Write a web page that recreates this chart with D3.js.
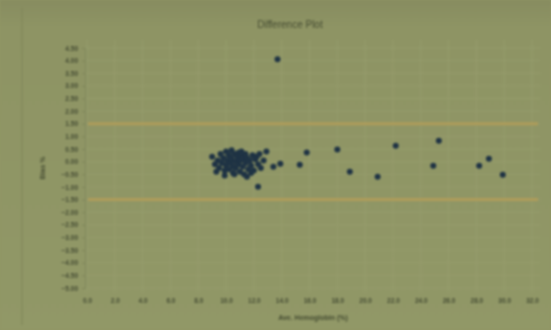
<!DOCTYPE html>
<html>
<head>
<meta charset="utf-8">
<script src="https://cdn.jsdelivr.net/npm/d3@7"></script>
<style>
  html, body { margin: 0; padding: 0; background: #8f9665; }
  svg { display: block; filter: blur(0.9px); }
  text { font-family: "Liberation Sans", Arial, sans-serif; }
</style>
</head>
<body>
<svg id="chart" width="551" height="330"></svg>
<script>
// Average of the two methods (x) and their difference (y)
const avgValues = [
  9.0, 9.2, 9.4, 9.5, 9.6, 9.7, 9.8, 9.9, 10.0, 10.0, 10.1, 10.2, 10.2, 10.3, 10.4,
  10.4, 10.5, 10.5, 10.6, 10.7, 10.7, 10.8, 10.9, 10.9, 11.0, 11.0, 11.1, 11.2, 11.2,
  11.3, 11.4, 11.4, 11.5, 11.6, 11.7, 11.8, 11.9, 12.0, 12.1, 12.2, 12.3, 12.5, 12.7,
  9.3, 9.9, 10.6, 11.1, 11.8, 12.4, 10.3, 11.5,
  12.3, 12.9, 13.4, 13.9, 15.3, 15.8, 18.0, 18.9, 20.9, 22.2, 24.9, 25.3, 28.2, 28.9, 29.9,
  13.7
];
const diffValues = [
  0.20, -0.10, 0.05, -0.25, 0.30, -0.05, 0.15, -0.35, 0.40, -0.15, 0.05, 0.25, -0.30,
  -0.05, 0.45, 0.10, -0.20, -0.45, 0.30, 0.00, -0.25, 0.20, 0.35, -0.10, 0.05, -0.40,
  0.25, -0.20, 0.10, -0.50, 0.30, -0.05, 0.15, -0.30, 0.05, -0.15, 0.25, -0.35, 0.10,
  0.20, -0.10, -0.25, 0.05,
  -0.40, -0.55, -0.50, 0.40, -0.45, 0.30, 0.15, -0.60,
  -0.99, 0.40, -0.20, -0.08, -0.12, 0.36, 0.48, -0.40, -0.60, 0.63, -0.16, 0.83, -0.16, 0.12, -0.52,
  4.05
];
// Upper and lower limits of agreement
const limitValues = [1.5, -1.5];
const xTicks = d3.range(0, 33, 2);
const yTicks = d3.range(-5, 4.51, 0.5);

const svg = d3.select("#chart");
const W = 551, H = 330;

// background with darker top band
const defs = svg.append("defs");
const bg = defs.append("linearGradient").attr("id", "bg").attr("x1", 0).attr("y1", 0).attr("x2", 0).attr("y2", 1);
bg.append("stop").attr("offset", 0).attr("stop-color", "#878c60");
bg.append("stop").attr("offset", 0.08).attr("stop-color", "#8e9464");
bg.append("stop").attr("offset", 1).attr("stop-color", "#919867");
svg.append("rect").attr("width", W).attr("height", H).attr("fill", "url(#bg)");

// chart frame
svg.append("line").attr("x1", 22).attr("x2", 22).attr("y1", 8).attr("y2", 325)
  .attr("stroke", "#7e8458").attr("stroke-width", 1);

const x = d3.scaleLinear().domain([0, 32]).range([87, 532]);
const y = d3.scaleLinear().domain([-5, 4.5]).range([288, 48]);

const plotTop = 40, plotBottom = 292, plotLeft = 85, plotRight = 540;

// gridlines
svg.append("g").selectAll("line").data(yTicks).join("line")
  .attr("x1", plotLeft).attr("x2", plotRight)
  .attr("y1", d => y(d)).attr("y2", d => y(d))
  .attr("stroke", "#989e6e").attr("stroke-width", 0.8);
svg.append("g").selectAll("line").data(xTicks).join("line")
  .attr("x1", d => x(d)).attr("x2", d => x(d))
  .attr("y1", plotTop).attr("y2", plotBottom)
  .attr("stroke", "#989e6e").attr("stroke-width", 0.8);

// y axis
const yAxis = svg.append("g").attr("transform", `translate(${plotLeft},0)`)
  .call(d3.axisLeft(y).tickValues(yTicks).tickFormat(d3.format(".2f")).tickSize(3).tickPadding(4));
yAxis.select(".domain").attr("stroke", "#7f865a");
yAxis.selectAll(".tick line").attr("stroke", "#7f865a");
yAxis.selectAll("text").attr("font-size", 6.5).attr("fill", "#444b33").attr("font-weight", "bold");

// x axis
const xAxis = svg.append("g").attr("transform", `translate(0,${plotBottom})`)
  .call(d3.axisBottom(x).tickValues(xTicks).tickFormat(d3.format(".1f")).tickSize(0).tickPadding(6));
xAxis.select(".domain").attr("stroke", "none");
xAxis.selectAll("text").attr("font-size", 6.5).attr("fill", "#444b33").attr("font-weight", "bold");

// limits of agreement
svg.append("g").selectAll("line").data(limitValues).join("line")
  .attr("x1", x(0) + 1).attr("x2", 538)
  .attr("y1", d => y(d)).attr("y2", d => y(d))
  .attr("stroke", "#ae9c5a").attr("stroke-width", 3);

// points
const pts = avgValues.map((v, i) => ({ x: v, y: diffValues[i] }));
svg.append("g").selectAll("circle").data(pts).join("circle")
  .attr("cx", d => x(d.x)).attr("cy", d => y(d.y)).attr("r", 3)
  .attr("fill", "#1f3344");

// titles
svg.append("text").attr("x", 290).attr("y", 28).attr("text-anchor", "middle")
  .attr("font-size", 10).attr("fill", "#454c32").text("Difference Plot");
svg.append("text").attr("x", 313).attr("y", 320).attr("text-anchor", "middle")
  .attr("font-size", 7).attr("fill", "#454c32").attr("font-weight", "bold").text("Ave. Hemoglobin (%)");
svg.append("text").attr("transform", "translate(45,168) rotate(-90)").attr("text-anchor", "middle")
  .attr("font-size", 7).attr("fill", "#454c32").attr("font-weight", "bold").text("Bias %");
</script>
</body>
</html>
